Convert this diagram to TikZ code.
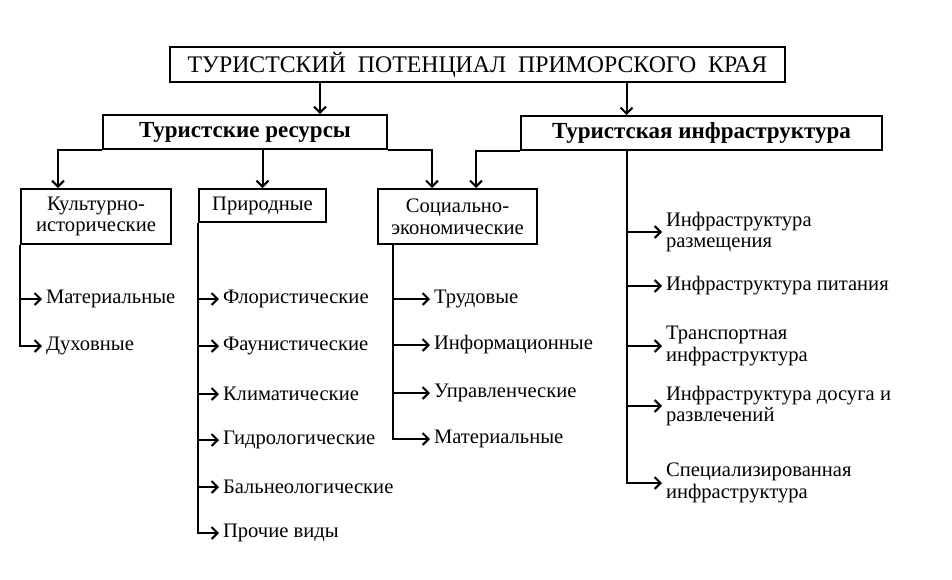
\documentclass[tikz,border=0pt]{standalone}
\usepackage{fontspec}
\setmainfont{Liberation Serif}
\newfontfamily\serif{Liberation Serif}
\usetikzlibrary{positioning,arrows.meta}

\begin{document}
\begin{tikzpicture}[x=0.5pt, y=-0.5pt, line width=1pt,
        >={Straight Barb[length=3pt,width=6pt]},
        box/.style={draw, line width=1pt, inner sep=0pt, align=center,
            font=\serif\fontsize{10.3}{10.8}\selectfont},
        head/.style={box, font=\serif\fontsize{11.5}{13}\selectfont\bfseries},
        item/.style={anchor=west, inner sep=1.5pt, align=left,
            font=\serif\fontsize{10.3}{10.8}\selectfont}]
        \useasboundingbox (0,0) rectangle (952,579);

        \node[box, minimum width=307.5pt, minimum height=17.5pt,
            font=\serif\fontsize{11.9}{13}\selectfont] (top) at (477.5,64.5)
            {ТУРИСТСКИЙ\ \ ПОТЕНЦИАЛ\ \ ПРИМОРСКОГО\ \ КРАЯ};
        \node[head, minimum width=142pt, minimum height=17pt] (res) at (245,132) {Туристские ресурсы};
        \node[head, minimum width=180.5pt, minimum height=17pt] (inf) at (701.5,133) {Туристская инфраструктура};

        \node[box, minimum width=75pt, minimum height=27.5pt] (kult) at (96,216.5) {Культурно-\\исторические};
        \node[box, minimum width=63.5pt, minimum height=16.5pt] (prir) at (262.5,205.5) {Природные};
        \node[box, minimum width=79.5pt, minimum height=27.5pt] (soc) at (457.5,216.5) {Социально-\\экономические};

        \node[item] (k1) at (42,299) {Материальные};
        \node[item] (k2) at (42,346) {Духовные};

        \node[item] (p1) at (219,299) {Флористические};
        \node[item] (p2) at (219,346) {Фаунистические};
        \node[item] (p3) at (219,394) {Климатические};
        \node[item] (p4) at (219,440) {Гидрологические};
        \node[item] (p5) at (219,487) {Бальнеологические};
        \node[item] (p6) at (219,533) {Прочие виды};

        \node[item] (s1) at (430,299) {Трудовые};
        \node[item] (s2) at (430,345) {Информационные};
        \node[item] (s3) at (430,393) {Управленческие};
        \node[item] (s4) at (430,439) {Материальные};

        \node[item] (i1) at (662,232) {Инфраструктура\\размещения};
        \node[item] (i2) at (662,286) {Инфраструктура питания};
        \node[item] (i3) at (662,346) {Транспортная\\инфраструктура};
        \node[item] (i4) at (662,406) {Инфраструктура досуга и\\развлечений};
        \node[item] (i5) at (662,483) {Специализированная\\инфраструктура};

        \coordinate (resin) at ([xshift=37.5pt]res.north);
        \coordinate (infin) at ([xshift=-37.5pt]inf.north);

        % top level
        \draw[->] (top.south -| resin) -- (resin);
        \draw[->] (top.south -| infin) -- (infin);

        % resources and infrastructure to groups
        \draw[->] (res.south west) -| ([xshift=-19pt]kult.north);
        \draw[->] (res.south -| prir.north) -- (prir.north);
        \draw[->] (res.south east) -| ([xshift=-12.75pt]soc.north);
        \draw[->] (inf.south west) -| ([xshift=9.25pt]soc.north);

        % branches
        \draw[->] (kult.south west) |- (k2.west);
        \draw[->] (kult.south west |- k1.west) -- (k1.west);

        \draw[->] (prir.south west) |- (p6.west);
        \foreach \n in {p1,p2,p3,p4,p5}
            \draw[->] (prir.south west |- \n.west) -- (\n.west);

        \coordinate (soctr) at ([xshift=8pt]soc.south west);
        \draw[->] (soctr) |- (s4.west);
        \foreach \n in {s1,s2,s3}
            \draw[->] (soctr |- \n.west) -- (\n.west);

        \draw[->] (inf.south -| infin) |- (i5.west);
        \foreach \n in {i1,i2,i3,i4}
            \draw[->] (infin |- \n.west) -- (\n.west);
    \end{tikzpicture}
\end{document}
